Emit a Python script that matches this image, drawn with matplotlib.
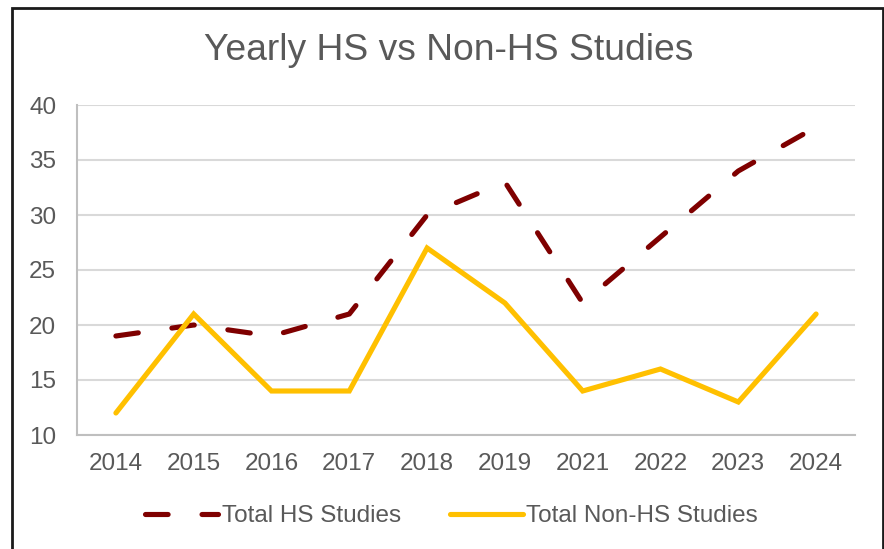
import numpy as np
import matplotlib
matplotlib.use("Agg")
import matplotlib.pyplot as plt
from matplotlib.patches import Rectangle

plt.rcParams['font.family'] = ['Liberation Sans', 'DejaVu Sans']

years = ['2014', '2015', '2016', '2017', '2018', '2019', '2021', '2022', '2023', '2024']
hs_studies = [19, 20, 19, 21, 30, 33, 22, 28, 34, 38]
non_hs_studies = [12, 21, 14, 14, 27, 22, 14, 16, 13, 21]

txt = '#595959'
fig = plt.figure(figsize=(8.84, 5.49), dpi=100)
ax = fig.add_axes([77/884, 1-435/549, 778/884, 330/549])

x = np.arange(len(years))
ax.plot(x, hs_studies, color='#7f0000', lw=3.7, linestyle=(0, (4.4, 6.6)),
        dash_capstyle='round', solid_joinstyle='round', label='Total HS Studies', zorder=3)
ax.plot(x, non_hs_studies, color='#ffc000', lw=3.7, solid_capstyle='round',
        solid_joinstyle='miter', label='Total Non-HS Studies', zorder=3)

ax.set_xlim(-0.5, len(years) - 0.5)
ax.set_ylim(10, 40)
ax.set_yticks(range(10, 41, 5))
ax.set_xticks(x)
ax.set_xticklabels(years)
ax.tick_params(axis='both', length=0, labelsize=17.5, labelcolor=txt)
ax.tick_params(axis='y', pad=15)
ax.tick_params(axis='x', pad=13)
ax.grid(axis='y', color='#d9d9d9', lw=1.5)
ax.set_axisbelow(True)
for s in ['top', 'right']:
    ax.spines[s].set_visible(False)
for s in ['left', 'bottom']:
    ax.spines[s].set_color('#bfbfbf')
    ax.spines[s].set_linewidth(1.5)

fig.text(0.508, 1-51/549, 'Yearly HS vs Non-HS Studies', ha='center', va='center',
         fontsize=26.8, color=txt)

fig.legend(loc='center', bbox_to_anchor=(0.511, 1-516/549), ncol=2, frameon=False,
           fontsize=17.5, labelcolor=txt, handlelength=3.0, handletextpad=0.15,
           columnspacing=2.0)

fig.add_artist(Rectangle((12/884, -0.05), 871/884, 1.05-8/549, transform=fig.transFigure,
                         fill=False, edgecolor='#1a1a1a', lw=2))

fig.savefig('out.png', dpi=100)
